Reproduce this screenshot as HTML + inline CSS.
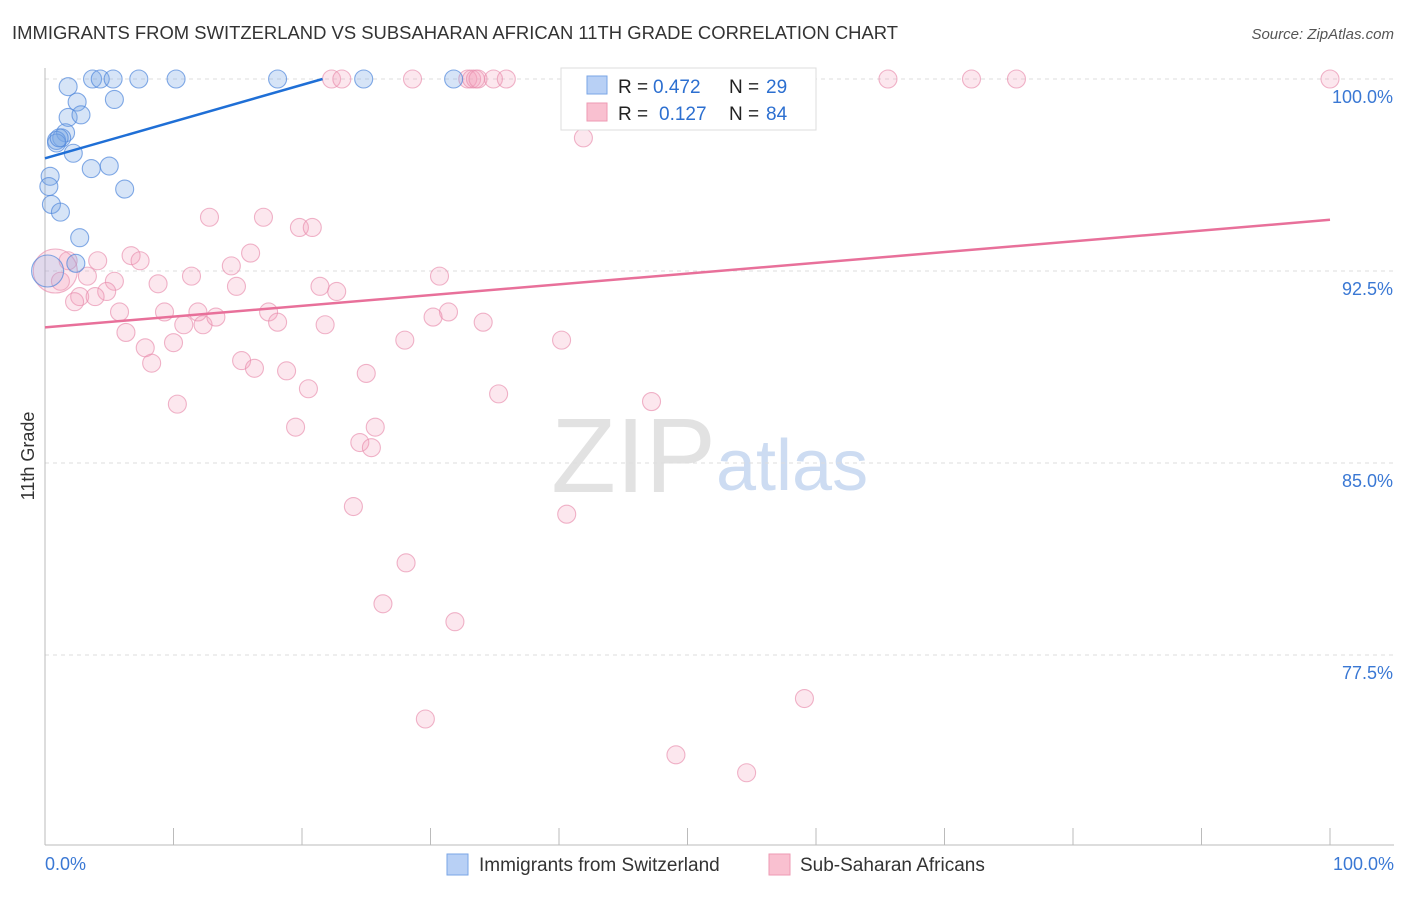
<!DOCTYPE html>
<html><head><meta charset="utf-8"><style>
body{margin:0;background:#fff;font-family:"Liberation Sans",sans-serif;}
svg text{font-family:"Liberation Sans",sans-serif;}
</style></head><body>
<svg id="c" width="1406" height="892">
<text x="12" y="39" font-size="18" fill="#333" textLength="886" lengthAdjust="spacingAndGlyphs">IMMIGRANTS FROM SWITZERLAND VS SUBSAHARAN AFRICAN 11TH GRADE CORRELATION CHART</text>
<text x="1394" y="39" font-size="15" fill="#555" font-style="italic" text-anchor="end">Source: ZipAtlas.com</text>
<text x="0" y="0" transform="translate(34,456) rotate(-90)" font-size="18" fill="#333" text-anchor="middle">11th Grade</text>
<text x="716" y="492" font-size="106" fill="#e2e2e2" text-anchor="end" font-family="Liberation Serif">ZIP</text>
<text x="716" y="490" font-size="72" fill="#cddcf2">atlas</text>
<g id="grid"></g><g id="axes"></g><g id="pts"></g><g id="lines"></g>
<g>
<rect x="561" y="68" width="255" height="62" fill="#fff" stroke="#ddd"/>
<rect x="587" y="76" width="20" height="18" fill="#b8d0f5" stroke="#7aa6e6"/>
<rect x="587" y="103" width="20" height="18" fill="#f9c0d0" stroke="#ee9ab3"/>
<text x="618" y="93" font-size="19" fill="#222">R =</text><text x="653" y="93" font-size="19" fill="#2c6fd0">0.472</text>
<text x="729" y="93" font-size="19" fill="#222">N =</text><text x="766" y="93" font-size="19" fill="#2c6fd0">29</text>
<text x="618" y="120" font-size="19" fill="#222">R =</text><text x="659" y="120" font-size="19" fill="#2c6fd0">0.127</text>
<text x="729" y="120" font-size="19" fill="#222">N =</text><text x="766" y="120" font-size="19" fill="#2c6fd0">84</text>
</g>
<g>
<rect x="447" y="854" width="21" height="21" fill="#b8d0f5" stroke="#7aa6e6"/>
<text x="479" y="871" font-size="19" fill="#333">Immigrants from Switzerland</text>
<rect x="769" y="854" width="21" height="21" fill="#f9c0d0" stroke="#ee9ab3"/>
<text x="800" y="871" font-size="19" fill="#333">Sub-Saharan Africans</text>
</g>
</svg>
<script>
const blueX=[3.7,4.3,5.3,7.3,10.2,18.1,24.8,31.8,1.8,2.5,5.4,1.8,2.8,1.6,1.3,0.9,0.9,2.2,3.6,5.0,6.2,0.4,0.3,0.5,1.2,2.7,2.4,1.1];
const blueY=[100,100,100,100,100,100,100,100,99.7,99.1,99.2,98.5,98.6,97.9,97.7,97.6,97.5,97.1,96.5,96.6,95.7,96.2,95.8,95.1,94.8,93.8,92.8,97.7];
const pinkX=[22.3,23.1,28.6,32.9,33.2,33.5,33.7,34.9,35.9,52.4,65.6,72.1,75.6,100,42.8,55.5,41.9,12.8,17.0,19.8,20.8,16.0,6.7,7.4,14.5,1.8,4.1,11.4,3.3,5.4,8.8,14.9,4.8,30.7,21.4,22.7,2.7,3.9,2.3,5.8,9.3,11.9,17.4,18.1,31.4,30.2,10.8,12.3,13.3,21.8,34.1,6.3,10.0,7.8,8.3,15.3,16.3,28.0,40.2,18.8,25.0,20.5,35.3,47.2,10.3,19.5,25.7,24.5,25.4,24.0,40.6,28.1,26.3,31.9,29.6,59.1,49.1,54.6,1.2];
const pinkY=[100,100,100,100,100,100,100,100,100,100,100,100,100,100,100,99.1,97.7,94.6,94.6,94.2,94.2,93.2,93.1,92.9,92.7,92.9,92.9,92.3,92.3,92.1,92.0,91.9,91.7,92.3,91.9,91.7,91.5,91.5,91.3,90.9,90.9,90.9,90.9,90.5,90.9,90.7,90.4,90.4,90.7,90.4,90.5,90.1,89.7,89.5,88.9,89.0,88.7,89.8,89.8,88.6,88.5,87.9,87.7,87.4,87.3,86.4,86.4,85.8,85.6,83.3,83.0,81.1,79.5,78.8,75.0,75.8,73.6,72.9,92.1];
const bigX=[0.8,0.2], bigY=[92.5,92.5];
const lineX0=[0,0], lineX1=[21.6,100], lineY0=[96.9,90.3], lineY1=[100,94.5];
const yTicks=[100,92.5,85,77.5], yTickLabels=["100.0%","92.5%","85.0%","77.5%"];
const xTicks=[0,10,20,30,40,50,60,70,80,90,100];
const sx=v=>45+v*12.85, sy=v=>79+(100-v)*25.6;
const NS="http://www.w3.org/2000/svg";
function mk(t,p,a){const e=document.createElementNS(NS,t);for(const k in a)e.setAttribute(k,a[k]);p.appendChild(e);return e;}
const grid=document.getElementById('grid'),axes=document.getElementById('axes'),pts=document.getElementById('pts'),lines=document.getElementById('lines');
yTicks.forEach((v,i)=>{
 const l=mk('line',grid,{x1:45,x2:1394,y1:sy(v),y2:sy(v),stroke:'#ddd','stroke-dasharray':'4,4'});
 
 
 const t=mk('text',grid,{x:1393,y:sy(v)+24,'font-size':18,fill:'#3a78d4','text-anchor':'end'});
 t.textContent=yTickLabels[i];
 
 
});
const ax=mk('line',axes,{x1:45,x2:45,y1:68,y2:845,stroke:'#bbb'});


const bx=mk('line',axes,{x1:45,x2:1394,y1:845,y2:845,stroke:'#bbb'});


xTicks.forEach(v=>{
 const t=mk('line',axes,{x1:sx(v),x2:sx(v),y1:828,y2:845,stroke:'#bbb'});
 
 
});
const xl0=mk('text',axes,{x:45,y:870,'font-size':18,fill:'#3a78d4'});xl0.textContent='0.0%';


const xl1=mk('text',axes,{x:1394,y:870,'font-size':18,fill:'#3a78d4','text-anchor':'end'});xl1.textContent='100.0%';


function dot(x,y,r,pink,op){
 const c=mk('circle',pts,{cx:sx(x),cy:sy(y),r:r,fill:pink?'rgba(244,160,188,0.25)':'rgba(120,165,230,'+(op||0.3)+')',stroke:pink?'rgba(232,140,172,0.65)':'rgba(80,135,220,0.7)','stroke-width':1.1});
 
 
}
pinkX.forEach((x,i)=>dot(x,pinkY[i],9,true));
dot(bigX[0],bigY[0],22,true);
dot(bigX[1],bigY[1],16,false,0.2);
blueX.forEach((x,i)=>dot(x,blueY[i],9,false));
const cols=['#1f6fd6','#e8709a'],nm=['trend-line-switzerland','trend-line-subsaharan'];
for(let i=0;i<2;i++){
 const l=mk('line',lines,{x1:sx(lineX0[i]),y1:sy(lineY0[i]),x2:sx(lineX1[i]),y2:sy(lineY1[i]),stroke:cols[i],'stroke-width':2.5});
 
 
}
</script>
</body></html>
